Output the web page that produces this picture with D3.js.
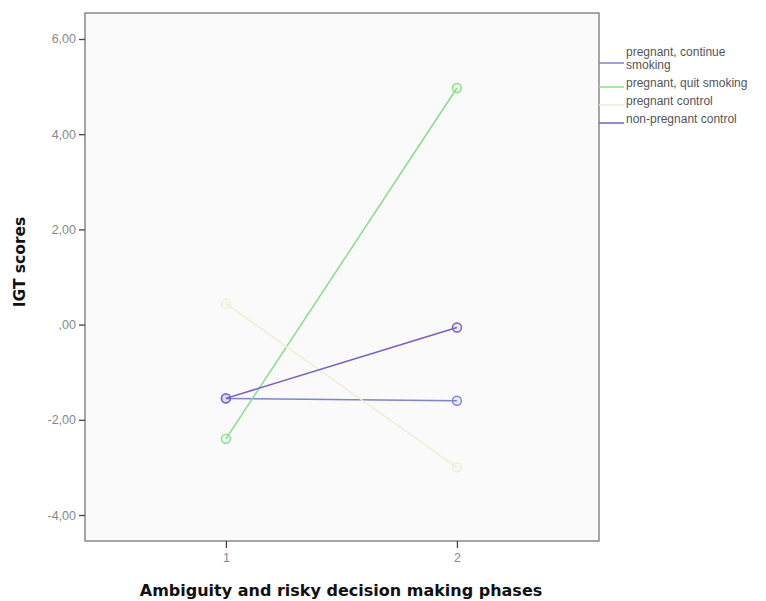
<html>
<script src="https://d3js.org/d3.v7.min.js"></script>
<style>
body{margin:0;background:#fff;}
text{font-family:"Liberation Sans",Arial,sans-serif;}
</style>
<div id="chart"></div>
<script>
const phases = [1, 2];
const seriesNames = ['pregnant, continue smoking', 'pregnant, quit smoking', 'pregnant control', 'non-pregnant control'];
const continueSmoking = [-1.55, -1.6];
const quitSmoking = [-2.4, 4.97];
const pregnantControl = [0.44, -3.0];
const nonPregnantControl = [-1.55, -0.06];
const yTicks = [-4, -2, 0, 2, 4, 6];
const colors = ['#7b84d6', '#86e086', '#eeeed6', '#7a5cc4'];

const width = 766;
const height = 601;
const margin = { top: 13, left: 85, bottom: 60, right: 167 };

const svg = d3.select('#chart').append('svg')
  .attr('width', width)
  .attr('height', height);

const x = d3.scaleLinear()
  .domain([0.39, 2.615])
  .range([margin.left, width - margin.right]);

const y = d3.scaleLinear()
  .domain([-4.546, 6.546])
  .range([height - margin.bottom, margin.top]);

// plot background + frame
svg.append('rect')
  .attr('x', margin.left).attr('y', margin.top)
  .attr('width', width - margin.right - margin.left)
  .attr('height', height - margin.bottom - margin.top)
  .attr('fill', '#fafafa')
  .attr('stroke', '#777')
  .attr('stroke-width', 1.3);

const fmt = v => {
  let s = d3.format('.2f')(Math.abs(v)).replace('.', ',');
  if (s.startsWith('0')) s = s.slice(1);
  return (v < 0 ? '-' : '') + s;
};

const yAxis = svg.append('g')
  .attr('transform', `translate(${margin.left},0)`)
  .call(d3.axisLeft(y).tickValues(yTicks).tickSize(6).tickPadding(3).tickFormat(fmt));
yAxis.select('.domain').remove();
yAxis.selectAll('line').attr('stroke', '#444').attr('stroke-width', 1.3);
yAxis.selectAll('text').attr('fill', '#888').attr('font-size', 12.5)
  .style('font-family', '"Liberation Sans",Arial,sans-serif');

const xAxis = svg.append('g')
  .attr('transform', `translate(0,${height - margin.bottom})`)
  .call(d3.axisBottom(x).tickValues(phases).tickSize(7).tickPadding(5).tickFormat(d3.format('d')));
xAxis.select('.domain').remove();
xAxis.selectAll('line').attr('stroke', '#444').attr('stroke-width', 1.3);
xAxis.selectAll('text').attr('fill', '#888').attr('font-size', 12.5)
  .style('font-family', '"Liberation Sans",Arial,sans-serif');

// titles
svg.append('text')
  .attr('x', 341)
  .attr('y', 596)
  .attr('text-anchor', 'middle')
  .attr('font-size', 16)
  .attr('font-weight', 'bold')
  .attr('fill', '#111')
  .style('font-family', '"DejaVu Sans",sans-serif')
  .text('Ambiguity and risky decision making phases');

svg.append('text')
  .attr('transform', 'translate(25,262) rotate(-90)')
  .attr('text-anchor', 'middle')
  .attr('font-size', 15.5)
  .attr('font-weight', 'bold')
  .attr('fill', '#111')
  .style('font-family', '"DejaVu Sans",sans-serif')
  .text('IGT scores');

// series
const allSeries = [continueSmoking, quitSmoking, pregnantControl, nonPregnantControl];
const line = d3.line().x((d, i) => x(phases[i])).y(d => y(d));

const g = svg.selectAll('g.series')
  .data(allSeries)
  .enter().append('g')
  .attr('class', 'series');

g.append('path')
  .attr('d', d => line(d))
  .attr('fill', 'none')
  .attr('stroke', (d, i) => colors[i])
  .attr('stroke-width', 1.5);

g.selectAll('circle')
  .data((d, i) => d.map((v, j) => ({ v, j, i })))
  .enter().append('circle')
  .attr('cx', d => x(phases[d.j]))
  .attr('cy', d => y(d.v))
  .attr('r', 4.5)
  .attr('fill', d => d3.color(colors[d.i]).copy({ opacity: 0.12 }))
  .attr('stroke', d => colors[d.i])
  .attr('stroke-width', 1.4);

// legend
const legendX = width - margin.right;
const legendRows = [
  { name: ['pregnant, continue', 'smoking'], y: 63 },
  { name: ['pregnant, quit smoking'], y: 87 },
  { name: ['pregnant control'], y: 105 },
  { name: ['non-pregnant control'], y: 123 }
];

const lg = svg.selectAll('g.legend')
  .data(legendRows)
  .enter().append('g')
  .attr('class', 'legend');

lg.append('line')
  .attr('x1', legendX).attr('x2', legendX + 25)
  .attr('y1', d => d.y).attr('y2', d => d.y)
  .attr('stroke', (d, i) => colors[i])
  .attr('stroke-width', 1.5);

lg.append('text')
  .attr('x', legendX + 27)
  .attr('y', d => d.name.length > 1 ? d.y - 7 : d.y)
  .attr('dy', '0.35em')
  .attr('font-size', 12)
  .attr('fill', '#555')
  .selectAll('tspan')
  .data(d => d.name)
  .enter().append('tspan')
  .attr('x', legendX + 27)
  .attr('dy', (d, i) => i === 0 ? 0 : '1.1em')
  .text(d => d);
</script>
</html>
